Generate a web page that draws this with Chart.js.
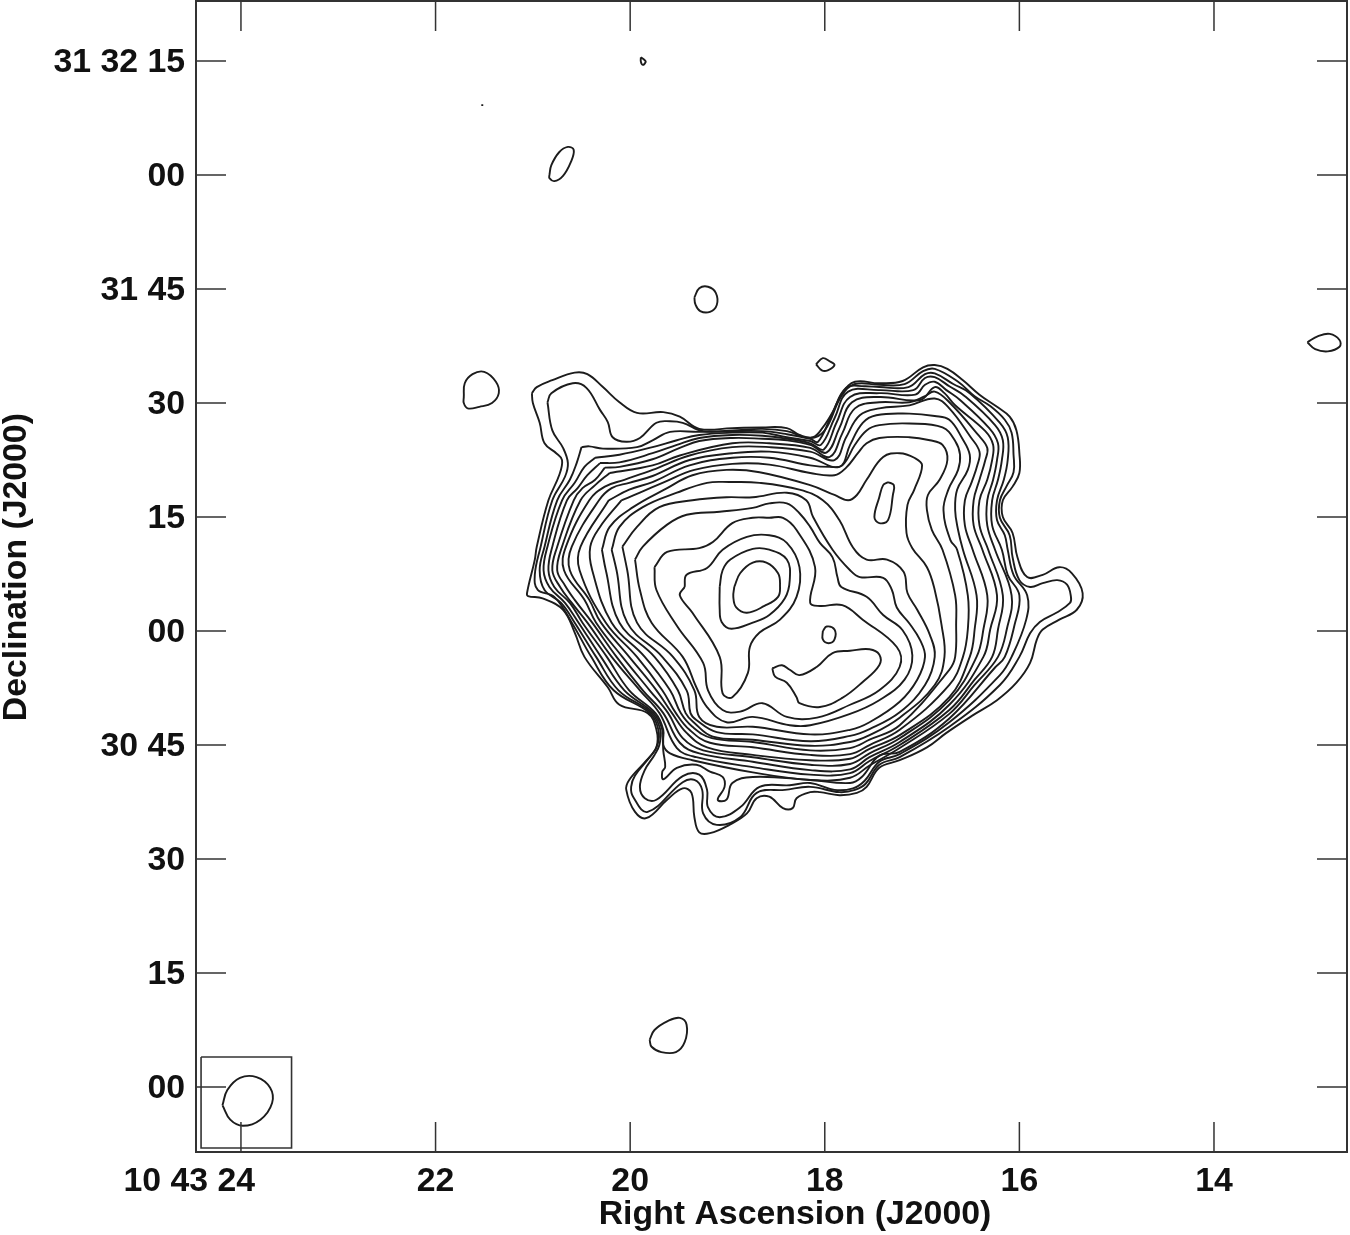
<!DOCTYPE html>
<html>
<head>
<meta charset="utf-8">
<title>Contour map</title>
<script src="https://cdn.jsdelivr.net/npm/chart.js@4/dist/chart.umd.min.js"></script>
<style>
  html, body { margin: 0; padding: 0; background: #fff; }
  canvas { display: block; }
</style>
</head>
<body>
<canvas id="myChart" width="1350" height="1235"></canvas>
<script>
// x = RA seconds past 10 43 00, y = arcsec north of 31 30 00
const raTicks = [24, 22, 20, 18, 16, 14];
const raLabels = ['10 43 24', '22', '20', '18', '16', '14'];
const decTicks = [135, 120, 105, 90, 75, 60, 45, 30, 15, 0];
const decLabels = ['31 32 15', '00', '31 45', '30', '15', '00', '30 45', '30', '15', '00'];

const level01 = [[21.01,91.3],[20.96,92.1],[20.80,93.0],[20.57,94.0],[20.44,93.8],[20.28,92.1],[20.11,90.1],[19.93,88.7],[19.66,88.8],[19.49,88.2],[19.29,86.6],[18.95,86.7],[18.64,86.8],[18.39,86.7],[18.26,85.8],[18.12,85.5],[18.02,86.8],[17.92,88.8],[17.82,91.3],[17.69,92.8],[17.44,92.6],[17.20,92.9],[16.99,94.7],[16.87,95.0],[16.74,94.5],[16.58,93.0],[16.41,91.1],[16.23,89.5],[16.10,88.2],[16.03,86.4],[16.00,83.4],[16.00,80.8],[16.07,79.0],[16.17,77.2],[16.17,75.0],[16.07,72.9],[16.02,69.7],[15.92,67.1],[15.76,67.4],[15.59,68.4],[15.46,67.6],[15.35,65.0],[15.41,62.8],[15.59,61.5],[15.76,60.2],[15.82,58.9],[15.89,55.8],[16.03,53.2],[16.23,50.9],[16.48,48.9],[16.75,46.6],[16.95,44.7],[17.23,43.0],[17.44,42.0],[17.57,39.5],[17.67,38.7],[17.85,38.4],[18.05,38.8],[18.15,38.8],[18.29,38.0],[18.33,36.7],[18.43,36.7],[18.57,38.2],[18.70,38.0],[18.80,36.0],[18.98,34.5],[19.18,33.4],[19.29,33.5],[19.34,35.5],[19.37,38.7],[19.46,39.3],[19.62,37.8],[19.83,35.4],[19.95,36.2],[20.04,39.1],[20.01,40.4],[19.83,43.0],[19.73,44.7],[19.73,47.0],[19.82,49.2],[20.11,50.3],[20.23,52.6],[20.47,56.6],[20.57,59.8],[20.69,62.8],[20.90,64.3],[21.05,64.6],[21.06,65.0],[20.98,69.4],[20.96,71.1],[20.84,77.2],[20.73,80.5],[20.70,82.5],[20.76,83.4],[20.88,84.7],[20.93,87.4],[21.00,90.0]];
const level02 = [[20.85,90.1],[20.81,91.3],[20.59,92.6],[20.45,92.0],[20.31,89.1],[20.23,87.5],[20.18,85.5],[20.04,84.9],[19.90,85.4],[19.73,87.4],[19.59,87.6],[19.46,87.4],[19.25,86.3],[18.95,86.4],[18.64,86.6],[18.39,86.3],[18.15,85.4],[18.00,86.4],[17.83,90.9],[17.69,92.5],[17.44,92.4],[17.18,92.5],[16.99,94.2],[16.87,94.5],[16.63,92.8],[16.46,90.9],[16.30,89.6],[16.15,87.8],[16.08,86.1],[16.06,83.2],[16.06,80.9],[16.13,79.1],[16.20,77.2],[16.20,74.9],[16.10,72.6],[16.07,69.7],[16.00,66.7],[15.89,65.8],[15.76,66.3],[15.61,66.7],[15.51,66.1],[15.47,64.5],[15.48,63.7],[15.62,62.4],[15.79,61.2],[15.89,59.7],[16.00,56.6],[16.20,52.9],[16.72,47.4],[17.23,43.4],[17.44,42.4],[17.58,39.9],[17.69,39.1],[17.85,38.8],[18.15,39.5],[18.41,39.1],[18.70,38.7],[18.87,35.5],[19.11,34.5],[19.25,36.0],[19.26,39.1],[19.34,40.4],[19.46,40.1],[19.82,36.2],[19.97,38.2],[19.99,39.5],[19.95,41.0],[19.80,43.4],[19.72,45.0],[19.71,47.0],[19.80,49.2],[20.17,52.2],[20.40,56.6],[20.60,61.1],[20.78,64.5],[20.95,65.4],[20.98,67.4],[20.92,71.1],[20.80,77.2],[20.67,80.3],[20.64,82.1],[20.69,84.1],[20.80,86.4]];
const level03 = [[20.50,84.2],[20.42,84.3],[20.28,84.0],[19.93,84.2],[19.77,85.1],[19.59,86.2],[19.29,86.2],[18.95,86.3],[18.64,86.3],[18.39,85.9],[18.15,85.3],[18.07,84.9],[17.93,88.4],[17.78,92.0],[17.59,92.2],[17.44,92.1],[17.14,92.1],[16.97,93.8],[16.87,93.9],[16.68,92.5],[16.51,91.3],[16.20,87.4],[16.12,85.5],[16.12,82.5],[16.16,79.9],[16.23,77.2],[16.23,74.6],[16.15,72.6],[16.12,70.7],[16.06,67.4],[15.92,64.7],[15.93,61.5],[16.08,56.6],[16.20,54.2],[16.72,48.0],[17.23,43.8],[17.44,42.8],[17.59,40.3],[17.71,39.3],[17.90,39.1],[18.15,40.0],[18.36,39.7],[18.67,39.5],[18.87,36.8],[19.08,35.5],[19.20,36.8],[19.21,39.1],[19.29,41.1],[19.46,40.9],[19.73,37.8],[19.85,38.0],[19.90,39.5],[19.85,41.7],[19.75,43.7],[19.70,45.0],[19.69,47.0],[19.78,49.2],[20.12,52.2],[20.35,56.6],[20.57,61.1],[20.71,63.7],[20.88,65.4],[20.93,68.0],[20.88,71.1],[20.75,77.2],[20.62,79.9],[20.55,82.1]];
const level04 = [[20.36,82.8],[20.11,83.2],[19.77,84.2],[19.52,85.1],[19.29,85.8],[18.95,86.1],[18.64,86.1],[18.39,85.5],[18.15,85.0],[18.04,84.5],[17.90,88.0],[17.76,91.5],[17.44,91.7],[17.09,91.7],[16.97,93.3],[16.87,93.4],[16.72,92.2],[16.56,90.9],[16.25,87.1],[16.17,85.1],[16.18,82.5],[16.22,79.9],[16.28,77.2],[16.28,73.9],[16.18,70.7],[16.12,67.4],[16.00,64.7],[16.05,60.8],[16.15,56.6],[16.25,55.2],[16.72,48.5],[17.23,44.1],[17.44,43.6],[17.62,40.8],[17.74,40.0],[18.15,40.4],[18.74,40.8],[18.95,40.0],[19.01,37.8],[19.10,37.8],[19.03,39.5],[19.05,40.8],[19.18,41.5],[19.32,42.4],[19.52,42.0],[19.66,40.5],[19.67,41.5],[19.64,42.1],[19.66,44.3],[19.67,47.0],[19.76,49.2],[20.06,52.2],[20.30,56.6],[20.53,61.1],[20.67,63.7],[20.83,65.8],[20.89,68.0],[20.85,71.1],[20.70,77.2],[20.57,79.5],[20.47,81.6]];
const level05 = [[20.31,82.1],[20.11,82.2],[19.77,83.4],[19.52,84.5],[19.29,85.4],[18.95,85.8],[18.64,85.7],[18.39,85.3],[18.15,84.7],[18.01,83.9],[17.88,87.4],[17.74,90.8],[17.44,91.3],[17.07,91.1],[16.97,92.4],[16.87,92.8],[16.75,91.7],[16.61,90.4],[16.31,86.7],[16.22,84.7],[16.23,82.5],[16.27,79.9],[16.33,77.2],[16.33,73.9],[16.25,70.7],[16.08,64.7],[16.13,60.2],[16.22,56.6],[16.46,52.9],[16.72,49.1],[17.23,44.6],[17.54,42.3],[17.74,40.7],[18.15,40.4],[18.74,41.4],[19.36,43.0],[19.59,43.9],[19.66,45.0],[19.66,47.0],[19.74,49.2],[20.01,52.2],[20.24,56.6],[20.49,61.1],[20.62,63.7],[20.78,65.8],[20.84,68.0],[20.80,71.1],[20.65,77.2],[20.54,78.8],[20.44,80.5]];
const level06 = [[20.26,81.5],[20.11,81.6],[19.77,82.6],[19.49,84.1],[19.29,85.0],[18.95,85.4],[18.64,85.3],[18.39,85.1],[18.15,84.5],[17.98,83.5],[17.85,86.7],[17.72,90.1],[17.44,90.8],[17.02,90.4],[16.87,92.1],[16.77,91.3],[16.66,89.7],[16.35,86.3],[16.27,84.5],[16.28,82.5],[16.33,79.9],[16.41,77.2],[16.41,73.9],[16.32,70.7],[16.17,64.7],[16.22,60.2],[16.28,56.6],[16.46,53.6],[16.72,49.6],[17.23,45.0],[17.54,42.9],[17.74,41.3],[18.15,41.1],[18.74,42.1],[19.32,43.4],[19.52,44.6],[19.70,49.2],[19.90,52.2],[20.19,56.6],[20.44,61.1],[20.60,63.7],[20.72,65.8],[20.80,68.0],[20.75,71.1],[20.58,77.2],[20.49,78.8],[20.36,79.9]];
const level07 = [[20.21,80.8],[19.77,81.8],[19.49,83.1],[18.95,84.7],[18.57,84.7],[18.15,84.1],[17.95,82.9],[17.82,86.0],[17.69,89.3],[17.44,90.1],[17.13,90.1],[16.97,90.9],[16.87,91.5],[16.72,90.1],[16.43,85.9],[16.33,84.1],[16.35,82.5],[16.41,79.9],[16.47,77.2],[16.47,73.9],[16.38,70.7],[16.23,64.7],[16.30,60.2],[16.37,56.6],[16.72,50.3],[17.23,45.4],[17.54,43.4],[17.74,41.8],[18.15,41.7],[18.74,42.8],[19.29,43.9],[19.49,45.3],[19.66,49.2],[19.87,52.2],[20.14,56.6],[20.39,61.1],[20.57,64.1],[20.67,66.0],[20.75,68.0],[20.70,71.1],[20.51,77.2],[20.36,79.2]];
const level08 = [[20.06,79.9],[19.77,81.2],[19.39,83.1],[18.95,84.2],[18.57,84.2],[18.15,83.6],[17.90,82.5],[17.78,85.5],[17.64,88.4],[17.44,89.3],[17.13,89.7],[16.87,90.6],[16.72,89.3],[16.50,85.5],[16.41,83.6],[16.43,81.9],[16.49,79.6],[16.56,77.2],[16.56,73.9],[16.48,70.7],[16.33,64.7],[16.37,60.2],[16.44,56.6],[16.72,50.9],[17.23,45.9],[17.54,43.9],[17.74,42.5],[18.15,42.4],[18.74,43.4],[19.25,44.3],[19.46,45.9],[19.61,49.2],[19.80,52.2],[20.08,56.6],[20.35,61.1],[20.47,64.1],[20.68,68.0],[20.66,71.1],[20.42,77.2],[20.26,79.0]];
const level09 = [[20.01,79.5],[19.77,80.4],[19.39,82.5],[18.95,83.4],[18.57,83.6],[18.15,82.8],[17.85,81.6],[17.74,84.5],[17.61,87.4],[17.47,88.4],[17.13,88.6],[16.87,88.3],[16.72,87.8],[16.59,85.4],[16.51,83.2],[16.53,81.2],[16.64,78.6],[16.66,75.9],[16.63,73.3],[16.58,70.7],[16.44,64.7],[16.46,60.2],[16.51,56.6],[16.72,51.3],[17.23,46.3],[17.54,44.5],[17.74,43.2],[18.15,43.0],[18.74,43.7],[19.21,44.7],[19.42,46.6],[19.57,49.2],[19.73,52.2],[20.01,56.6],[20.30,61.1],[20.42,64.1],[20.62,68.0],[20.60,71.1],[20.32,77.2],[20.19,78.8]];
const level10 = [[20.22,77.2],[20.01,78.6],[19.77,79.6],[19.39,81.8],[18.95,82.8],[18.57,82.8],[18.15,81.8],[17.95,81.6],[17.82,81.8],[17.69,84.5],[17.57,86.4],[17.44,87.1],[17.13,87.3],[16.79,86.8],[16.66,85.0],[16.61,83.2],[16.63,81.2],[16.73,78.6],[16.78,75.9],[16.71,72.0],[16.64,70.7],[16.53,64.7],[16.53,60.2],[16.58,56.6],[16.72,52.9],[17.23,47.0],[17.54,45.0],[17.74,43.8],[18.15,43.7],[18.74,44.7],[19.18,45.3],[19.39,47.0],[19.53,49.2],[19.67,52.2],[19.93,56.6],[20.25,61.1],[20.52,68.0],[20.51,71.1]];
const level11 = [[20.09,77.2],[19.90,78.2],[19.65,79.6],[19.34,81.2],[18.95,82.0],[18.57,81.9],[18.15,80.8],[17.90,80.5],[17.78,81.5],[17.66,83.4],[17.57,84.7],[17.44,85.4],[17.13,85.5],[16.92,85.1],[16.79,84.5],[16.74,82.5],[16.82,79.9],[16.94,77.9],[16.95,75.9],[16.90,73.3],[16.79,70.7],[16.66,64.7],[16.65,60.8],[16.66,56.6],[16.72,54.9],[17.23,47.6],[17.54,45.7],[17.74,44.6],[18.15,44.3],[18.74,45.4],[19.16,45.9],[19.36,47.4],[19.48,49.2],[19.59,52.2],[19.85,56.6],[20.19,61.1],[20.39,68.0],[20.41,71.1],[20.31,73.7]];
const level12 = [[20.29,70.7],[20.21,73.7],[19.97,76.3],[19.62,78.8],[19.36,80.5],[19.01,81.2],[18.67,80.9],[18.15,79.2],[17.90,77.9],[17.76,77.2],[17.67,77.9],[17.57,79.9],[17.40,82.9],[17.23,83.4],[17.08,82.8],[17.00,81.8],[17.08,78.6],[17.15,76.6],[17.16,72.9],[17.10,70.9],[16.95,68.4],[16.87,65.4],[16.80,60.8],[16.77,56.6],[16.87,52.9],[17.23,48.6],[17.54,46.3],[17.74,45.4],[18.15,44.9],[18.74,45.7],[19.15,46.1],[19.34,47.9],[19.43,49.2],[19.51,52.2],[19.75,56.6],[20.11,61.1],[20.25,68.0]];
const level13 = [[20.19,70.7],[20.11,73.7],[19.87,76.3],[19.52,78.2],[19.21,79.5],[18.98,79.6],[18.67,79.5],[18.26,78.6],[18.02,77.2],[17.85,74.6],[17.71,71.0],[17.57,69.4],[17.36,69.4],[17.19,67.8],[17.15,65.0],[17.05,62.8],[16.92,59.5],[16.87,56.6],[16.97,52.9],[17.23,49.3],[17.54,47.1],[17.74,46.2],[18.15,45.5],[18.74,46.4],[19.11,46.7],[19.32,48.3],[19.38,49.2],[19.42,52.2],[19.67,56.6],[20.03,61.1],[20.14,68.0]];
const level14 = [[20.08,71.1],[19.93,73.7],[19.70,76.3],[19.36,77.2],[19.01,77.6],[18.74,77.6],[18.39,78.2],[18.19,77.2],[18.12,75.0],[17.92,70.7],[17.74,68.0],[17.64,67.1],[17.40,67.0],[17.31,65.4],[17.26,63.1],[17.13,61.0],[17.02,58.8],[16.97,56.6],[17.05,53.6],[17.23,50.7],[17.54,48.0],[17.74,47.0],[18.15,46.4],[18.74,47.4],[19.11,47.4],[19.29,48.7],[19.34,52.2],[19.56,56.6],[19.93,61.1],[20.03,68.0]];
const level15 = [[19.95,69.4],[19.87,71.1],[19.62,74.0],[19.42,75.3],[19.08,75.7],[18.74,76.2],[18.57,76.8],[18.39,76.8],[18.26,75.5],[18.15,73.7],[18.05,71.6],[17.92,69.7],[17.87,67.1],[17.83,65.8],[17.57,64.5],[17.40,62.1],[17.20,60.1],[17.10,56.8],[17.18,53.6],[17.44,50.9],[17.74,49.1],[18.15,47.6],[18.36,47.6],[18.74,48.7],[19.01,48.0],[19.21,50.0],[19.32,52.6],[19.46,56.6],[19.78,61.1],[19.90,65.4]];
const level16 = [[19.75,68.4],[19.62,70.4],[19.29,70.9],[19.15,71.7],[18.95,74.2],[18.74,74.9],[18.57,74.9],[18.43,74.9],[18.29,73.3],[18.10,68.4],[18.15,63.7],[18.05,63.3],[17.82,63.4],[17.61,61.5],[17.26,57.9],[17.23,55.3],[17.44,52.2],[17.74,50.3],[18.08,48.6],[18.39,48.7],[18.64,50.5],[18.87,49.4],[19.05,49.6],[19.20,52.2],[19.25,55.8],[19.52,60.7],[19.73,65.4]];
const level17 = [[19.44,65.8],[19.42,67.4],[19.21,68.3],[19.05,70.7],[18.80,72.4],[18.57,72.6],[18.39,71.6],[18.26,68.4],[18.29,64.5],[18.46,61.5],[18.67,59.8],[18.77,57.9],[18.79,54.5],[18.95,51.3],[19.05,51.8],[19.08,56.6],[19.36,62.4],[19.49,64.7]];
const level18 = [[19.08,65.8],[19.05,68.0],[18.97,69.4],[18.74,70.8],[18.57,70.7],[18.39,69.4],[18.36,66.7],[18.41,64.3],[18.57,62.1],[18.74,61.1],[18.96,60.3],[19.06,61.2],[19.08,62.9]];
const level19 = [[18.93,65.8],[18.87,67.6],[18.74,69.0],[18.60,69.0],[18.48,67.6],[18.46,66.0],[18.48,64.5],[18.62,63.3],[18.80,62.4],[18.91,63.1],[18.94,64.5]];

// closed islands
const ridgeSE = [[18.54,55.1],[18.44,55.5],[18.36,54.9],[18.26,54.2],[18.08,55.3],[17.92,57.1],[17.74,57.4],[17.54,57.6],[17.44,56.9],[17.44,55.5],[17.61,53.3],[17.82,51.2],[18.05,50.0],[18.26,50.5],[18.29,51.3],[18.39,53.2],[18.51,54.0]];
const knotCentre = [[18.02,60.0],[17.98,60.6],[17.90,60.2],[17.90,58.9],[17.96,58.4],[18.02,58.9]];
const peakNE = [[17.35,79.6],[17.29,79.2],[17.30,77.9],[17.35,74.6],[17.44,74.2],[17.49,75.0],[17.44,77.6],[17.40,79.2]];
const specTop = [[19.89,135.5],[19.85,135.1],[19.84,134.9],[19.87,134.5],[19.89,134.9]];
const specDot = [[21.53,129.2],[21.51,129.2]];
const ovalA = [[20.83,120.0],[20.81,121.3],[20.73,123.0],[20.64,123.7],[20.58,123.3],[20.61,121.7],[20.69,119.9],[20.78,119.2],[20.83,119.6]];
const ovalB = [[19.34,103.9],[19.29,105.1],[19.20,105.3],[19.12,104.5],[19.11,102.9],[19.18,102.0],[19.28,102.1],[19.33,103.0]];
const ovalC = [[18.09,95.1],[18.02,95.9],[17.95,95.5],[17.90,95.0],[17.97,94.3],[18.03,94.3]];
const ovalEast = [[13.04,98.0],[12.93,98.8],[12.81,99.1],[12.71,98.3],[12.71,97.4],[12.83,96.8],[12.96,97.1]];
const blobWest = [[21.71,90.8],[21.70,92.6],[21.62,93.8],[21.50,94.1],[21.38,92.8],[21.35,91.3],[21.42,90.0],[21.55,89.5],[21.67,89.3],[21.71,90.0]];
const blobSouth = [[19.80,6.2],[19.75,7.5],[19.61,8.7],[19.49,9.1],[19.42,8.2],[19.44,5.9],[19.53,4.6],[19.68,4.6],[19.78,5.3]];
const beam = [[24.19,-2.4],[24.14,-0.4],[24.01,1.2],[23.84,1.3],[23.70,-0.1],[23.68,-2.1],[23.80,-4.3],[23.98,-5.1],[24.11,-4.3]];
const beamBox = [[24.41,3.95],[23.48,3.95],[23.48,-8.03],[24.41,-8.03],[24.41,3.95]];

const contours = [
  level01, level02, level03, level04, level05, level06, level07, level08, level09, level10,
  level11, level12, level13, level14, level15, level16, level17, level18, level19,
  ridgeSE, knotCentre, peakNE, specTop, specDot, ovalA, ovalB, ovalC, ovalEast, blobWest, blobSouth, beam
];

const ink = '#1c1c1c';
const axisFont = { family: '"Liberation Sans", Arial, sans-serif', size: 33.8, weight: 'bold', lineHeight: 1.2 };

function toPoints(list) {
  return list.map(p => ({ x: p[0], y: p[1] }));
}

const datasets = contours.map(list => ({
  data: toPoints(list.concat([list[0]])),
  showLine: true,
  fill: false,
  borderColor: ink,
  borderWidth: 1.9,
  tension: 0.4,
  pointRadius: 0
}));
datasets.push({
  data: toPoints(beamBox),
  showLine: true,
  fill: false,
  borderColor: '#333',
  borderWidth: 1.6,
  tension: 0.0001,
  pointRadius: 0
});

// frame and inward ticks on all four sides
const frameTicks = {
  id: 'frameTicks',
  afterDatasetsDraw(chart) {
    const { ctx, chartArea: a, scales } = chart;
    const len = 30;
    ctx.save();
    ctx.strokeStyle = '#333';
    ctx.lineWidth = 1.5;
    ctx.beginPath();
    raTicks.forEach(v => {
      const x = scales.x.getPixelForValue(v);
      ctx.moveTo(x, a.top); ctx.lineTo(x, a.top + len);
      ctx.moveTo(x, a.bottom); ctx.lineTo(x, a.bottom - len);
    });
    decTicks.forEach(v => {
      const y = scales.y.getPixelForValue(v);
      ctx.moveTo(a.left, y); ctx.lineTo(a.left + len, y);
      ctx.moveTo(a.right, y); ctx.lineTo(a.right - len, y);
    });
    ctx.stroke();
    ctx.lineWidth = 2;
    ctx.strokeRect(a.left, a.top, a.right - a.left, a.bottom - a.top);
    ctx.restore();
  }
};

new Chart(document.getElementById('myChart'), {
  type: 'scatter',
  data: { datasets: datasets },
  plugins: [frameTicks],
  options: {
    responsive: false,
    animation: false,
    layout: { padding: { top: 1, right: 3, bottom: 0, left: 0 } },
    plugins: { legend: { display: false }, tooltip: { enabled: false } },
    scales: {
      x: {
        type: 'linear',
        reverse: true,
        min: 12.633,
        max: 24.462,
        grid: { display: false, drawTicks: false },
        border: { display: false },
        afterBuildTicks: s => { s.ticks = raTicks.map(v => ({ value: v })); },
        afterFit: s => { s.height = 83; s.paddingLeft = 0; s.paddingRight = 0; },
        ticks: {
          autoSkip: false,
          maxRotation: 0,
          padding: 9,
          color: '#111',
          font: axisFont,
          // trailing spaces keep the "24" of the long label under its tick
          callback: v => {
            const label = raLabels[raTicks.indexOf(v)];
            return label.length > 2 ? label + '\u00a0'.repeat(11) : label;
          }
        },
        title: {
          display: true,
          text: '\u00a0\u00a0\u00a0\u00a0\u00a0Right Ascension (J2000)',
          color: '#111',
          font: axisFont,
          padding: 0
        }
      },
      y: {
        type: 'linear',
        min: -8.55,
        max: 142.9,
        grid: { display: false, drawTicks: false },
        border: { display: false },
        afterBuildTicks: s => { s.ticks = decTicks.map(v => ({ value: v })); },
        afterFit: s => { s.width = 196; s.paddingTop = 0; s.paddingBottom = 0; },
        ticks: {
          autoSkip: false,
          padding: 11,
          labelOffset: 2,
          color: '#111',
          font: axisFont,
          callback: v => decLabels[decTicks.indexOf(v)]
        },
        title: {
          display: true,
          text: '\u00a0\u00a0Declination (J2000)',
          color: '#111',
          font: Object.assign({}, axisFont, { lineHeight: 1 }),
          padding: 0
        }
      }
    }
  }
});
</script>
</body>
</html>
